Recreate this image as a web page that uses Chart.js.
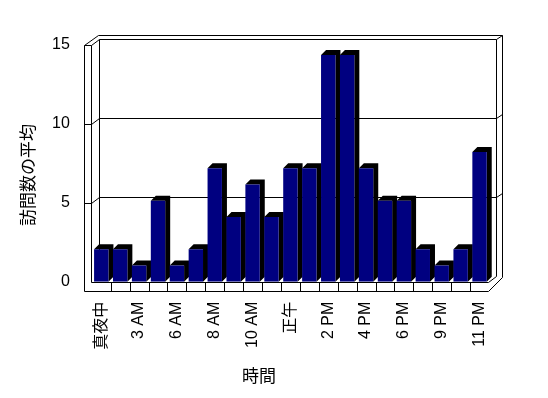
<!DOCTYPE html>
<html lang="ja">
<head>
<meta charset="utf-8">
<script src="https://cdn.jsdelivr.net/npm/chart.js@4"></script>
<style>
  html, body { margin: 0; padding: 0; background: #fff; }
  #wrap { width: 548px; height: 398px; }
</style>
</head>
<body>
<div id="wrap"><canvas id="js-chart" width="548" height="398"></canvas></div>
<script>
'use strict'

const hours = ['真夜中', '1 AM', '3 AM', '5 AM', '6 AM', '7 AM', '8 AM', '9 AM', '10 AM', '11 AM', '正午',
  '1 PM', '2 PM', '3 PM', '4 PM', '5 PM', '6 PM', '7 PM', '9 PM', '10 PM', '11 PM']
const visits = [2, 2, 1, 5, 1, 2, 7, 4, 6, 4, 7, 7, 14, 14, 7, 5, 5, 2, 1, 2, 8]
const yTicks = [0, 5, 10, 15]
const yTitle = '訪問数の平均'
const xTitle = '時間'

const colors = {
  bar: '#000080',
  shade: '#000000',
  line: '#000000',
  text: '#000000'
}
const depth = { x: 5, y: 5 }
const labelFont = '"Liberation Sans", "Noto Sans CJK JP", sans-serif'
const titleFont = '17px "Noto Sans CJK JP", sans-serif'

const px = v => Math.round(v) + 0.5

// Excel風の3D枠（壁・床・目盛線）と棒の奥行き
const frame3dPlugin = {
  id: 'frame3d',
  beforeDatasetsDraw(chart) {
    const { ctx, chartArea, scales } = chart
    const { left: L, right: R, bottom: B } = chartArea
    const y = scales.y
    const y2 = scales.y2
    const x = scales.x
    // 奥の壁の高さ（少し縮む）
    const backY = v => B - 5.4 - (B - y.getPixelForValue(v)) * 0.975

    const fx0 = L - 8, fx1 = L - 1
    const bx0 = L + 7, bx1 = R + 7, ox1 = R + 13
    const topFront = y2.getPixelForValue(15)
    const topBack = backY(15)
    const topOuter = topBack - 4.7
    const backBottom = backY(0)
    const floorBottom = B + 9.3

    const line = pts => {
      ctx.beginPath()
      pts.forEach(([a, b], i) => i ? ctx.lineTo(px(a), px(b)) : ctx.moveTo(px(a), px(b)))
      ctx.stroke()
    }

    ctx.save()
    ctx.strokeStyle = colors.line
    ctx.lineWidth = 1

    // 奥の壁
    line([[fx0, topFront], [bx0 - 1, topOuter], [ox1, topOuter], [ox1, B - 4.5]])
    line([[bx1, topBack], [ox1, topOuter]])
    line([[bx0, backBottom], [bx0, topBack], [bx1, topBack], [bx1, backBottom]])

    // 左の壁
    line([[fx0, topFront], [fx1, topFront], [bx0, topBack]])
    line([[fx0, topFront], [fx0, floorBottom]])
    line([[fx1, topFront], [fx1, B]])

    // 目盛線
    ;[5, 10].forEach(v => {
      line([[bx0, backY(v)], [bx1, backY(v)], [ox1, backY(v) - 4.6]])
      line([[fx0, y2.getPixelForValue(v)], [fx1, y2.getPixelForValue(v)], [bx0, backY(v)]])
    })

    // 床
    line([[fx1, B], [R - 1, B]])
    line([[fx0, floorBottom], [R - 1, floorBottom], [ox1, B - 4.5]])
    line([[R - 1, B], [bx1, backBottom]])
    for (let i = 1; i < hours.length; i++) {
      const bx = (x.getPixelForValue(i - 1) + x.getPixelForValue(i)) / 2
      line([[bx, B], [bx, floorBottom]])
    }

    // 棒の上面・側面
    ctx.fillStyle = colors.shade
    chart.getDatasetMeta(0).data.forEach(bar => {
      const x0 = bar.x - bar.width / 2
      const x1 = bar.x + bar.width / 2
      ctx.beginPath()
      ctx.moveTo(x0, bar.y)
      ctx.lineTo(x0 + depth.x, bar.y - depth.y)
      ctx.lineTo(x1 + depth.x, bar.y - depth.y)
      ctx.lineTo(x1 + depth.x, bar.base - depth.y)
      ctx.lineTo(x1, bar.base)
      ctx.lineTo(x1, bar.y)
      ctx.closePath()
      ctx.fill()
    })
    ctx.restore()
  },
  afterDraw(chart) {
    const { ctx } = chart
    ctx.save()
    ctx.fillStyle = colors.text
    ctx.font = titleFont
    ctx.textAlign = 'center'
    ctx.textBaseline = 'middle'
    ctx.fillText(xTitle, 259, 376)
    ctx.translate(28, 175)
    ctx.rotate(-Math.PI / 2)
    ctx.fillText(yTitle, 0, 0)
    ctx.restore()
  }
}

new Chart(document.getElementById('js-chart'), {
  type: 'bar',
  data: {
    labels: hours,
    datasets: [{
      data: visits,
      backgroundColor: colors.bar,
      borderWidth: 0,
      categoryPercentage: 1,
      barPercentage: 0.76,
      yAxisID: 'y'
    }]
  },
  options: {
    responsive: false,
    animation: false,
    devicePixelRatio: 1,
    layout: { padding: { top: 38.7, right: 59, bottom: 0, left: 0 } },
    plugins: {
      legend: { display: false },
      tooltip: { enabled: false }
    },
    scales: {
      x: {
        grid: { display: false, drawTicks: false },
        border: { display: false },
        ticks: {
          autoSkip: false,
          maxRotation: 90,
          minRotation: 90,
          padding: 20,
          color: colors.text,
          font: { family: labelFont, size: 16 },
          callback(value, index) {
            // 1つおきにラベル表示
            return index % 2 === 0 ? this.getLabelForValue(value) : ''
          }
        },
        afterFit(scale) { scale.height = 116.3 }
      },
      y: { display: false, min: 0, max: 15 },
      y2: {
        position: 'left',
        min: 0,
        max: 15.4,
        grid: { display: false, drawTicks: false },
        border: { display: false },
        ticks: {
          padding: 22,
          color: colors.text,
          font: { family: labelFont, size: 16 }
        },
        afterBuildTicks(scale) {
          scale.ticks = yTicks.map(v => ({ value: v }))
        },
        afterFit(scale) { scale.width = 91.8 }
      }
    }
  },
  plugins: [frame3dPlugin]
})
</script>
</body>
</html>
